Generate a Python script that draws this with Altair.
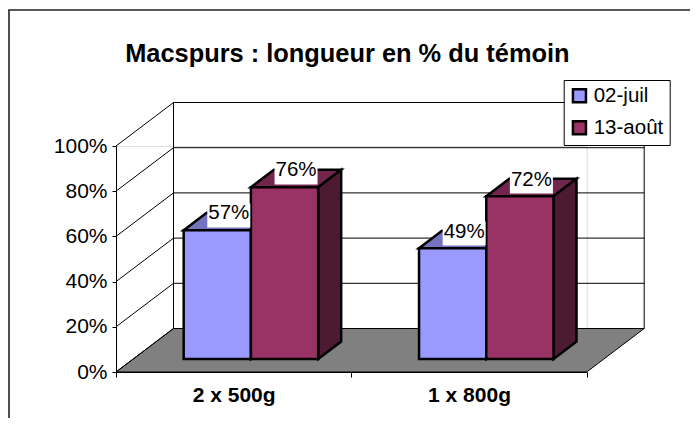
import altair as alt
import pandas as pd

categories = ["2 x 500g", "1 x 800g"]
series = ["02-juil", "13-août"]
juil_values = [0.57, 0.49]
aout_values = [0.76, 0.72]
front_colors = ["#9999FF", "#993366"]
top_colors = ["#7373BF", "#73264D"]
side_colors = ["#4D4D80", "#4D1A33"]
tick_values = [0, 0.2, 0.4, 0.6, 0.8, 1.0]

# oblique projection: shift per unit of depth, in data units
DX = 57.5 / 235.35
DY = 43.5 / 226
GAP = 1.5
BW = 1 / (2 + GAP)
D0, D1 = 0.3, 0.7

front, tops, sides, labels = [], [], [], []
for s, vals in enumerate([juil_values, aout_values]):
    for c, v in enumerate(vals):
        xl = c + GAP / 2 * BW + s * BW
        xr = xl + BW
        key = f"{s}-{c}"
        front.append(dict(series=series[s], x=xl + D0 * DX, x2=xr + D0 * DX,
                          y=D0 * DY, y2=v + D0 * DY))
        for d in (D0, D1):
            tops.append(dict(id=key, fill=top_colors[s], y=v + d * DY,
                             x=xl + d * DX, x2=xr + d * DX))
            sides.append(dict(id=key, fill=side_colors[s], x=xr + d * DX,
                              y=d * DY, y2=v + d * DY))
        labels.append(dict(label=f"{round(v * 100)}%",
                           x=(xl + xr) / 2 + (D0 + D1) / 2 * DX,
                           y=v + D0 * DY + 14.7 / 226))

grid = []
for t in tick_values:
    grid.append(dict(t=t, o=0, x=0, y=t))
    grid.append(dict(t=t, o=1, x=DX, y=t + DY))
    grid.append(dict(t=t, o=2, x=2 + DX, y=t + DY))
edge = [dict(x=DX, y=DY, y2=1 + DY), dict(x=2 + DX, y=DY, y2=1 + DY)]
floor = [dict(y=0, x=0, x2=2), dict(y=DY, x=DX, x2=2 + DX)]

xs = alt.Scale(domain=[0, 2], nice=False, zero=False)
ys = alt.Scale(domain=[0, 1], nice=False, zero=False)

X = alt.X("x:Q", scale=xs, title=None, axis=alt.Axis(
    values=[0, 0.5, 1, 1.5, 2], grid=False, domainColor="black", domainWidth=1,
    tickColor="black", tickSize=5,
    tickOpacity={"condition": {"test": "datum.value % 1 === 0", "value": 1}, "value": 0},
    labelExpr="datum.value === 0.5 ? '2 x 500g' : datum.value === 1.5 ? '1 x 800g' : ''",
    labelFont="Liberation Sans", labelFontWeight="bold", labelFontSize=21,
    labelColor="black", labelPadding=7, labelFlush=False, labelOverlap=False))
Y = alt.Y("y:Q", scale=ys, title=None, stack=None, axis=alt.Axis(
    values=tick_values, format=".0%", grid=False, domainColor="black", domainWidth=1,
    tickColor="black", tickSize=4, labelFont="Liberation Sans", labelFontSize=21,
    labelColor="black", labelPadding=5))

floor_l = alt.Chart(pd.DataFrame(floor)).mark_area(
    orient="horizontal", color="#808080", stroke="black", strokeWidth=1).encode(
    x=X, x2="x2:Q", y=Y)
grid_l = alt.Chart(pd.DataFrame(grid)).mark_line(color="black", strokeWidth=1).encode(
    x=alt.X("x:Q", scale=xs), y=alt.Y("y:Q", scale=ys), detail="t:N", order="o:Q")
edge_l = alt.Chart(pd.DataFrame(edge)).mark_rule(color="black", strokeWidth=1).encode(
    x=alt.X("x:Q", scale=xs), y=alt.Y("y:Q", scale=ys), y2="y2:Q")
top_l = alt.Chart(pd.DataFrame(tops)).mark_area(
    orient="horizontal", stroke="black", strokeWidth=2.5, strokeJoin="miter").encode(
    x=alt.X("x:Q", scale=xs), x2="x2:Q", y=alt.Y("y:Q", scale=ys, stack=None),
    fill=alt.Fill("fill:N", scale=None), detail="id:N")
side_l = alt.Chart(pd.DataFrame(sides)).mark_area(
    stroke="black", strokeWidth=2.5, strokeJoin="miter").encode(
    x=alt.X("x:Q", scale=xs), y=alt.Y("y:Q", scale=ys, stack=None), y2="y2:Q",
    fill=alt.Fill("fill:N", scale=None), detail="id:N")
front_l = alt.Chart(pd.DataFrame(front)).mark_rect(stroke="black", strokeWidth=2.5).encode(
    x=alt.X("x:Q", scale=xs), x2="x2:Q", y=alt.Y("y:Q", scale=ys), y2="y2:Q",
    color=alt.Color("series:N", title=None,
                    scale=alt.Scale(domain=series, range=front_colors),
                    legend=alt.Legend(
                        orient="none", legendX=447.7, legendY=-66,
                        fillColor="white", strokeColor="black", padding=5.5,
                        symbolType="square", symbolSize=170, symbolStrokeWidth=2.5,
                        symbolStrokeColor="black", labelFont="Liberation Sans",
                        labelFontSize=20.5, labelColor="black", rowPadding=8,
                        labelOffset=4)))
box_l = alt.Chart(pd.DataFrame(labels)).mark_rect(width=43, height=24, color="white").encode(
    x=alt.X("x:Q", scale=xs), y=alt.Y("y:Q", scale=ys))
text_l = alt.Chart(pd.DataFrame(labels)).mark_text(
    font="Liberation Sans", fontSize=20.5, color="black", baseline="middle", dy=-2).encode(
    x=alt.X("x:Q", scale=xs), y=alt.Y("y:Q", scale=ys), text="label:N")

frame_left = alt.Chart(pd.DataFrame({"a": [0]})).mark_rule(color="#222222", strokeWidth=1.6).encode(
    x=alt.value(-107), y=alt.value(-136), y2=alt.value(280))
frame_top = alt.Chart(pd.DataFrame({"a": [0]})).mark_rule(color="#222222", strokeWidth=1.6).encode(
    x=alt.value(-107.8), x2=alt.value(582), y=alt.value(-136))

chart = alt.layer(
    frame_left, frame_top, floor_l, grid_l, edge_l, top_l, side_l, front_l, box_l, text_l
).properties(
    width=470.7, height=226, autosize="none",
    padding={"left": 108, "top": 138, "right": 103.3, "bottom": 46},
    title=alt.TitleParams("Macspurs : longueur en % du témoin", font="Liberation Sans",
                          fontSize=25.4, fontWeight="bold", color="black", anchor="middle",
                          frame="group", dx=-4, offset=-58),
).configure_view(stroke=None).configure(background="white")

chart.save("out.html", embed_options={"renderer": "svg", "actions": False})
